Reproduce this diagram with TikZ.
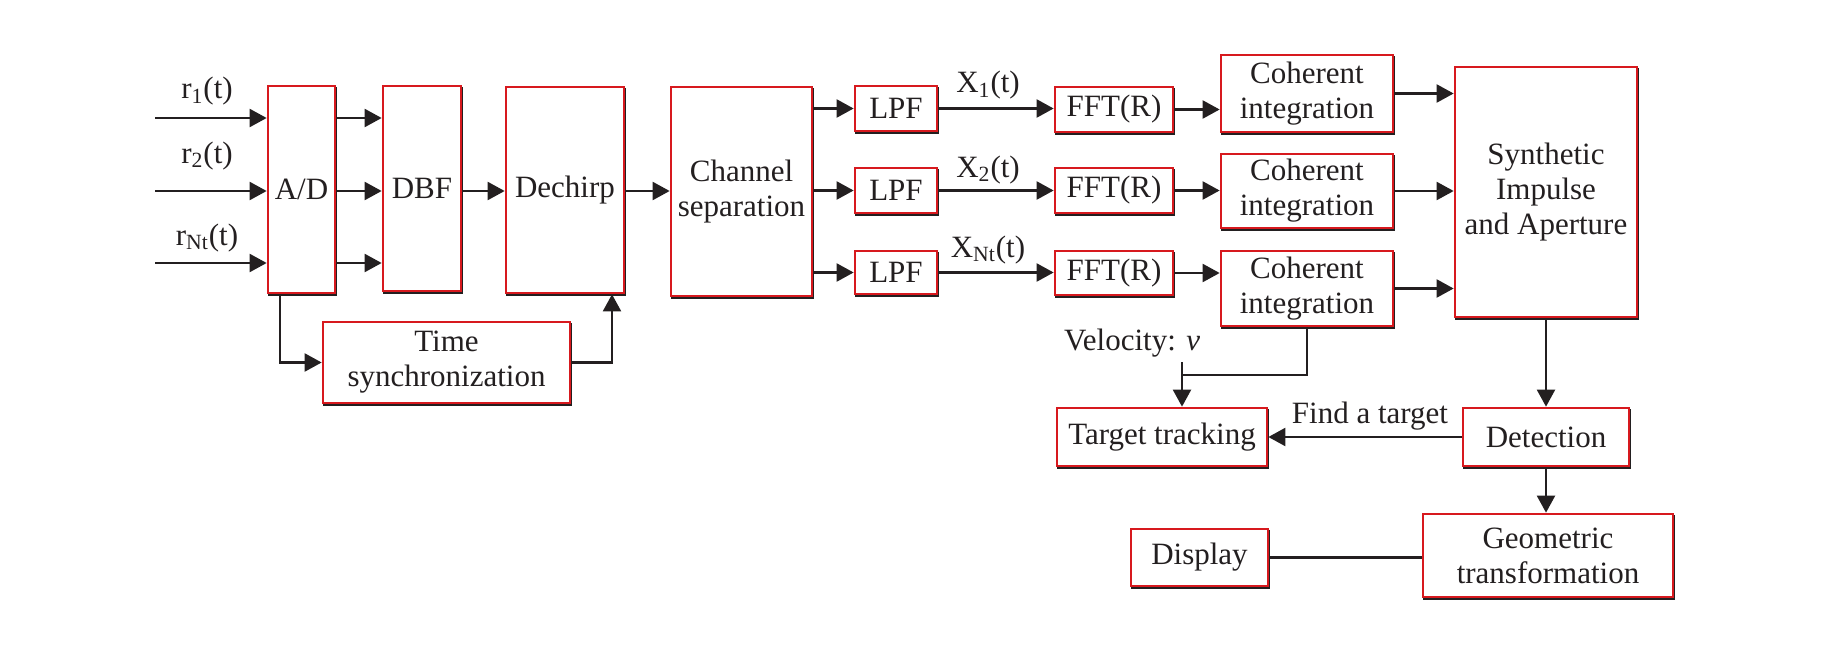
\documentclass[tikz,border=0pt]{standalone}
\usepackage{fontspec}
\setmainfont{Liberation Serif}
\usetikzlibrary{arrows.meta,shadows}
\definecolor{boxred}{RGB}{215,25,30}
\definecolor{ink}{RGB}{35,31,32}
\tikzset{
  blk/.style={draw=boxred, line width=1.35pt, fill=white, inner sep=0pt, align=center, text=ink,
    font=\fontsize{15.5}{17.5}\selectfont,
    drop shadow={shadow xshift=0.6pt, shadow yshift=-1pt, fill=none, draw=ink, line width=0.9pt, opacity=1}},
  conn/.style={draw=ink, line width=1.1pt},
  arr/.style={conn, -{Triangle[length=8.5pt,width=9pt]}},
  lbl/.style={text=ink, font=\fontsize{15.5}{17.5}\selectfont, inner sep=0pt, anchor=base},
}
\newcommand{\bx}[6]{\node[blk, minimum width={(#4-#2)*0.5pt}, minimum height={(#5-#3)*0.5pt}] (#1) at ({(#2+#4)/2},{(#3+#5)/2}) {#6};}
\begin{document}
\begin{tikzpicture}[x=0.5pt,y=-0.5pt]
\path[use as bounding box] (0,0) rectangle (1821,647);
% boxes
\bx{AD}{268}{86}{335}{293}{A/D}
\bx{DBF}{383}{86}{461}{291}{DBF}
\bx{Dech}{506}{87}{624}{293}{Dechirp}
\bx{TS}{323}{322}{570}{403}{Time\\synchronization}
\bx{CS}{671}{87}{812}{296}{Channel\\separation}
\bx{L1}{855}{86}{937}{131}{LPF}
\bx{L2}{855}{168}{937}{213}{LPF}
\bx{L3}{855}{251}{937}{294}{LPF}
\bx{F1}{1055}{87}{1173}{132}{FFT(R)}
\bx{F2}{1055}{168}{1173}{213}{FFT(R)}
\bx{F3}{1055}{251}{1173}{295}{FFT(R)}
\bx{CI1}{1221}{55}{1393}{132}{Coherent\\integration}
\bx{CI2}{1221}{154}{1393}{228}{Coherent\\integration}
\bx{CI3}{1221}{251}{1393}{326}{Coherent\\integration}
\bx{SIA}{1455}{67}{1637}{317}{Synthetic\\Impulse\\and Aperture}
\bx{TT}{1057}{408}{1267}{466}{Target tracking}
\bx{DET}{1463}{408}{1629}{466}{Detection}
\bx{GT}{1423}{514}{1673}{597}{Geometric\\transformation}
\bx{DISP}{1131}{529}{1268}{586}{Display}
% labels
\node[lbl] (lr1) at (207,99) {r\textsubscript{1}(t)};
\node[lbl] (lr2) at (207,163) {r\textsubscript{2}(t)};
\node[lbl] (lr3) at (207,245) {r\textsubscript{Nt}(t)};
\node[lbl] (lx1) at (988,93) {X\textsubscript{1}(t)};
\node[lbl] (lx2) at (988,177) {X\textsubscript{2}(t)};
\node[lbl] (lx3) at (988,257) {X\textsubscript{Nt}(t)};
\node[lbl] (lv) at (1132,350) {Velocity: \textit{v}};
\node[lbl] (lf) at (1370,423) {Find a target};
% coordinates
\coordinate (i1) at (155,118);
\coordinate (i2) at (155,191);
\coordinate (i3) at (155,263);
\coordinate (adx) at (280,0);
\coordinate (tsx) at (612,0);
\coordinate (vk) at (1182,375);
\coordinate (vt) at (1182,362);
% connectors
\draw[arr] (i1) -- (i1 -| AD.west);
\draw[arr] (i2) -- (i2 -| AD.west);
\draw[arr] (i3) -- (i3 -| AD.west);
\draw[arr] (AD.east |- i1) -- (DBF.west |- i1);
\draw[arr] (AD.east |- i2) -- (DBF.west |- i2);
\draw[arr] (AD.east |- i3) -- (DBF.west |- i3);
\draw[arr] (DBF.east |- i2) -- (Dech.west |- i2);
\draw[arr] (Dech.east |- i2) -- (CS.west |- i2);
\draw[arr] (CS.east |- L1.west) -- (L1.west);
\draw[arr] (CS.east |- L2.west) -- (L2.west);
\draw[arr] (CS.east |- L3.west) -- (L3.west);
\draw[arr] (L1.east) -- (F1.west |- L1.east);
\draw[arr] (L2.east) -- (F2.west |- L2.east);
\draw[arr] (L3.east) -- (F3.west |- L3.east);
\draw[arr] (F1.east) -- (CI1.west |- F1.east);
\draw[arr] (F2.east) -- (CI2.west |- F2.east);
\draw[arr] (F3.east) -- (CI3.west |- F3.east);
\draw[arr] (CI1.east) -- (SIA.west |- CI1.east);
\draw[arr] (CI2.east) -- (SIA.west |- CI2.east);
\draw[arr] (CI3.east) -- (SIA.west |- CI3.east);
\draw[arr] (AD.south -| adx) |- (TS.west);
\draw[arr] (TS.east) -| (Dech.south -| tsx);
\draw[conn] (CI3.south) |- (vk);
\draw[arr] (vt) -- (TT.north -| vt);
\draw[arr] (SIA.south -| DET.north) -- (DET.north);
\draw[arr] (DET.west) -- (TT.east);
\draw[arr] (DET.south) -- (GT.north -| DET.south);
\draw[conn] (DISP.east) -- (GT.west |- DISP.east);
\end{tikzpicture}
\end{document}
